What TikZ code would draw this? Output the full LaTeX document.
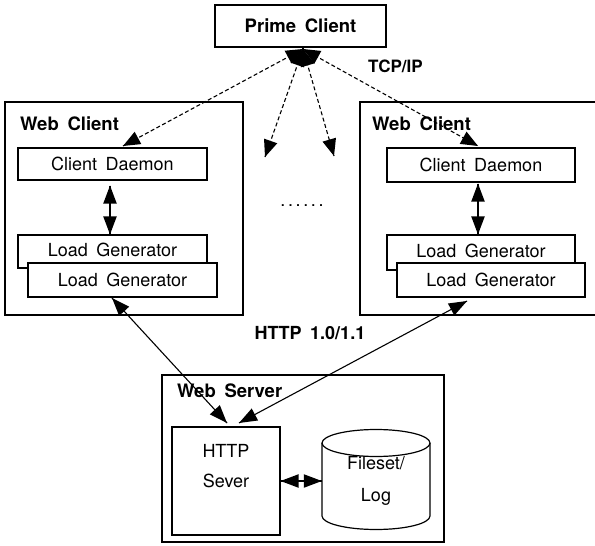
\documentclass[tikz,border=0pt]{standalone}
\usepackage{fontspec}
\setmainfont[WordSpace=1.7]{TeX Gyre Heros}
\usetikzlibrary{decorations.markings}
\begin{document}
\begin{tikzpicture}[x=1pt,y=-1pt,
  box/.style={draw, line width=1.2pt, fill=white, inner sep=0pt,
    font=\fontsize{18}{30}\selectfont, align=center},
  lbl/.style={inner sep=0pt, anchor=base west, font=\bfseries\fontsize{18.5}{20}\selectfont},
  arr/.style={line width=1.1pt, postaction={decorate, decoration={markings,
    mark=at position 0 with {\fill (0,0) -- (18pt,6.8pt) -- (18pt,-6.8pt) -- cycle;},
    mark=at position 1 with {\fill (0,0) -- (-18pt,6.8pt) -- (-18pt,-6.8pt) -- cycle;}}}},
  dsh/.style={line width=1.1pt, dash pattern=on 4pt off 2.5pt,
    postaction={decorate, decoration={markings,
    mark=at position 0 with {\fill[solid] (0,0) -- (17pt,7.2pt) -- (17pt,-7.2pt) -- cycle;},
    mark=at position 1 with {\fill[solid] (0,0) -- (-17pt,7pt) -- (-17pt,-7pt) -- cycle;}}}}
]
\useasboundingbox (0,0) rectangle (595,546);

% Prime client
\node[box, font=\bfseries\fontsize{18.5}{20}\selectfont, minimum width=171pt, minimum height=42pt] (prime) at (300.5,26) {Prime Client};
\node[inner sep=0pt, anchor=base west, font=\bfseries\fontsize{17}{20}\selectfont] (tcp) at (368,72) {TCP/IP};

% Left web client
\node[box, minimum width=238pt, minimum height=213pt] (wcL) at (124,208.5) {};
\node[lbl] (wcLl) at (20,130) {Web Client};
\node[box, minimum width=189pt, minimum height=32pt] (cdL) at (112.5,164) {Client Daemon};
\node[box, minimum width=189pt, minimum height=33pt] (lgL1) at (112.5,251.5) {\raisebox{4pt}{Load Generator}};
\node[box, minimum width=189pt, minimum height=34pt] (lgL2) at (122.5,280) {Load Generator};

% Right web client
\node[box, minimum width=238pt, minimum height=213pt] (wcR) at (479,208.5) {};
\node[lbl] (wcRl) at (372,130) {Web Client};
\node[box, minimum width=188pt, minimum height=34pt] (cdR) at (481,165) {Client Daemon};
\node[box, minimum width=188pt, minimum height=35pt] (lgR1) at (481,252.5) {\raisebox{4pt}{Load Generator}};
\node[box, minimum width=188pt, minimum height=34pt] (lgR2) at (491,280) {Load Generator};

% dots
\node[inner sep=0pt, font=\fontsize{18}{20}\selectfont] (dots) at (302,206)
  {.\kern2.6pt.\kern2.6pt.\kern2.6pt.\kern2.6pt.\kern2.6pt.};

% HTTP label
\node[inner sep=0pt, font=\bfseries\fontsize{18}{20}\selectfont, anchor=base] (http) at (310,339) {HTTP 1.0/1.1};

% Web server
\node[box, minimum width=282pt, minimum height=167pt] (ws) at (303,458.5) {};
\node[lbl] (wsl) at (177,397) {Web Server};
\node[box, minimum width=108pt, minimum height=108pt] (hs) at (226,481) {};
\node[inner sep=0pt, align=center, font=\fontsize{18}{30}\selectfont] (hst) at (226,466) {HTTP\\Sever};
\node[inner sep=0pt, minimum width=108pt, minimum height=100pt, align=center,
  font=\fontsize{18}{32}\selectfont] (fs) at (376,481) {Fileset/\\Log};
\draw[line width=1.2pt] (322,443) -- (322,516) arc[start angle=180, end angle=0, x radius=54, y radius=13.5]
  -- (430,443);
\draw[line width=1.2pt] (376,443) ellipse[x radius=54, y radius=13.5];

% connectors from prime client
\coordinate (pc) at (303,49);
\coordinate (t1) at (123,146);
\coordinate (t2) at (265,157);
\coordinate (t3) at (334,156);
\coordinate (t4) at (478,146);
\draw[line width=1.1pt] (pc |- prime.south) -- (pc);
\draw[dsh] (pc) -- (t1);
\draw[dsh] (pc) -- (t2);
\draw[dsh] (pc) -- (t3);
\draw[dsh] (pc) -- (t4);

% internal arrows
\draw[arr] ([xshift=-2.5pt,yshift=-5pt]cdL.south) -- ([xshift=-2.5pt]cdL.south |- lgL1.north);
\draw[arr] ([xshift=-3pt,yshift=-1pt]cdR.south) -- ([xshift=-3pt]cdR.south |- lgR1.north);
\draw[arr] (hs.east) -- (fs.west);

% HTTP arrows
\coordinate (h1) at (112,298);
\coordinate (h2) at (227,423);
\coordinate (h3) at (467,301);
\coordinate (h4) at (239,423);
\draw[arr] (h1) -- (h2);
\draw[arr] (h3) -- (h4);
\end{tikzpicture}
\end{document}
